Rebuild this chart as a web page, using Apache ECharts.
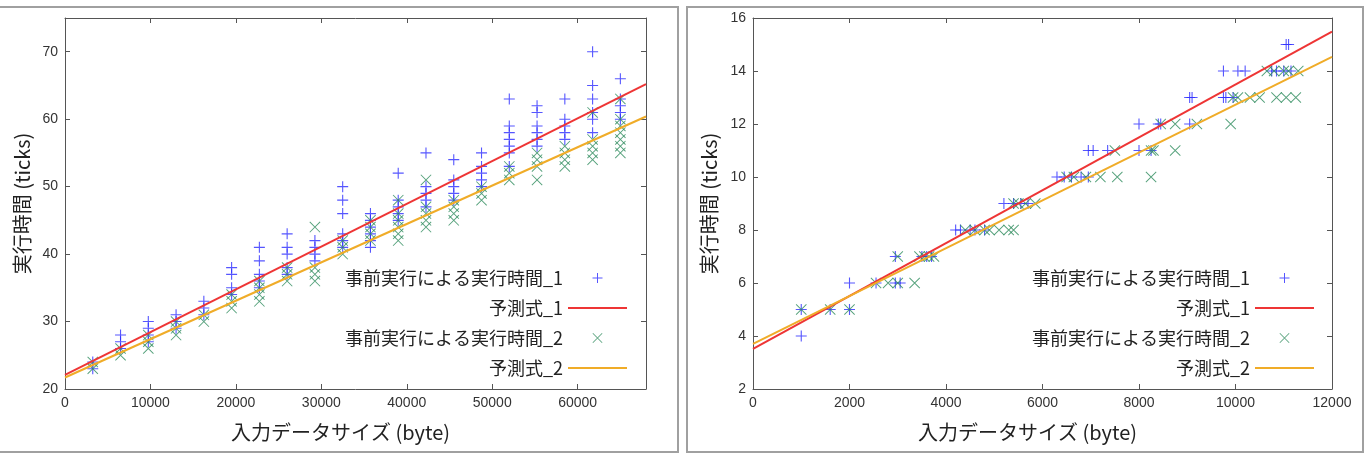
<!DOCTYPE html>
<html>
<head>
<meta charset="utf-8">
<script src="https://cdn.jsdelivr.net/npm/echarts@6/dist/echarts.min.js"></script>
<style>
  html, body { margin: 0; padding: 0; background: #fff; }
  #main { width: 1372px; height: 460px; }
</style>
</head>
<body>
<div id="main"></div>
<script>
// left panel: input size groups (byte) and run times (ticks)
var sizeL = [3250, 6500, 9750, 13000, 16250, 19500, 22750, 26000, 29250, 32500,
    35750, 39000, 42250, 45500, 48750, 52000, 55250, 58500, 61750, 65000];
var timeL1 = [[24, 23], [28, 27, 26], [30, 29, 28, 27], [31, 30, 29], [33, 32, 31],
    [38, 37, 35, 34], [41, 39, 37, 36, 35], [43, 41, 40, 38, 37], [42, 41, 40, 39],
    [50, 48, 46, 43, 42, 41], [46, 45, 44, 43, 42, 41], [52, 48, 47, 46, 45],
    [55, 50, 49, 48, 47], [54, 51, 50, 49, 48], [55, 53, 52, 51, 50],
    [63, 59, 58, 57, 56, 55, 53], [62, 61, 59, 58, 57, 56], [63, 60, 59, 58, 57],
    [70, 65, 63, 61, 60, 58], [66, 63, 62, 61, 60]];
var timeL2 = [[23, 24], [26, 25], [28, 27, 26], [30, 29, 28], [31, 30], [34, 33, 32],
    [36, 35, 34, 33], [38, 37, 36], [44, 38, 37, 36], [42, 41, 40], [45, 44, 43, 42],
    [48, 46, 45, 44, 43, 42], [51, 47, 46, 45, 44], [48, 47, 46, 45], [50, 49, 48],
    [53, 52, 51], [55, 54, 53, 51], [56, 55, 54, 53], [61, 57, 56, 55, 54],
    [63, 60, 59, 58, 57, 56, 55]];
var predL1 = [[0, 22.1], [68000, 65.2]];
var predL2 = [[0, 21.7], [68000, 60.4]];

// right panel: run time levels (ticks) and the sizes measured at each level
var timeR = [4, 5, 6, 7, 8, 9, 10, 11, 12, 13, 14, 15];
var sizeR1 = [[1000], [1000, 1600, 2000], [2000, 2550, 2950, 3050], [2950, 3500, 3600, 3700],
    [4200, 4300, 4500, 4600, 4800], [5200, 5400, 5550, 5700], [6300, 6450, 6600, 6800, 6950],
    [6950, 7050, 7350, 8000, 8250], [8000, 8400, 8450, 9050],
    [9050, 9100, 9750, 9800, 9950], [9750, 10050, 10200, 10750, 10850, 11000, 11150],
    [11050, 11100]];
var sizeR2 = [[], [1000, 1600, 2000], [2550, 2800, 3000, 3350], [3000, 3450, 3550, 3650, 3750],
    [4400, 4600, 4800, 4900, 5100, 5300, 5400], [5400, 5500, 5650, 5850],
    [6500, 6650, 6900, 7200, 7550, 8250], [7500, 8250, 8300, 8750], [8450, 8750, 9200, 9900],
    [9950, 10050, 10300, 10500, 10850, 11050, 11250], [10650, 10800, 11000, 11100, 11300], []];
var predR1 = [[0, 3.51], [12000, 15.49]];
var predR2 = [[0, 3.70], [12000, 14.53]];

var names = ['事前実行による実行時間_1', '予測式_1', '事前実行による実行時間_2', '予測式_2'];

function byGroup(xs, ys) {
    var out = [];
    xs.forEach(function (x, i) { ys[i].forEach(function (y) { out.push([x, y]); }); });
    return out;
}
function byLevel(levels, xs) {
    var out = [];
    levels.forEach(function (y, i) { xs[i].forEach(function (x) { out.push([x, y]); }); });
    return out;
}

var plusPath = 'path://M0,4.5H10V5.5H0Z M4.5,0H5.5V10H4.5Z';
var crossPath = 'path://M0,0.6L0.6,0L10,9.4L9.4,10Z M9.4,0L10,0.6L0.6,10L0,9.4Z';
var barPath = 'path://M0,0H59V2H0Z';
var frame = '#555';
var cjk = "'Noto Sans CJK JP', sans-serif";

function axis(pos, grid, min, max, interval, labels, nameText) {
    var a = {
        type: 'value', gridIndex: grid, position: pos,
        min: min, max: max, interval: interval,
        axisLine: { show: true, onZero: false, lineStyle: { color: frame, width: 1 } },
        axisTick: { show: true, inside: true, length: 5, lineStyle: { color: frame } },
        splitLine: { show: false },
        axisLabel: {
            show: labels, showMaxLabel: false, margin: 7,
            formatter: function (v) { return String(v); },
            color: '#333', fontSize: 14, fontFamily: "'Liberation Sans', Arial, sans-serif"
        }
    };
    if (nameText) {
        a.name = nameText;
        a.nameLocation = 'middle';
        a.nameTextStyle = { fontSize: 20, color: '#222', fontFamily: cjk };
    }
    return a;
}

var xl = axis('bottom', 0, 0, 68000, 10000, true, '入力データサイズ (byte)');
xl.nameGap = 33; xl.nameTextStyle.padding = [0, 30, 0, 0];
var xr = axis('bottom', 1, 0, 12000, 2000, true, '入力データサイズ (byte)');
xr.nameGap = 33; xr.nameTextStyle.padding = [0, 30, 0, 0];
xr.axisLabel.showMaxLabel = true;
var yl = axis('left', 0, 20, 75, 10, true, '実行時間 (ticks)');
yl.nameGap = 33;
var yr = axis('left', 1, 2, 16, 2, true, '実行時間 (ticks)');
yr.nameGap = 34;
yr.axisLabel.showMaxLabel = true;

function scatter(name, x, y, data, sym, color) {
    return {
        name: name, type: 'scatter', xAxisIndex: x, yAxisIndex: y,
        symbol: sym, symbolSize: 11, data: data,
        itemStyle: { color: color, opacity: 0.8 }
    };
}
function line(name, x, y, data, color) {
    return {
        name: name, type: 'line', xAxisIndex: x, yAxisIndex: y,
        symbol: 'none', data: data, z: 3,
        lineStyle: { color: color, width: 2 }, itemStyle: { color: color }
    };
}

var blue = '#2c2cff';
var green = '#2a8a5a';
var red = '#ee3535';
var orange = '#f0ac28';

function legend(right) {
    return {
        data: [
            { name: names[0] },
            { name: names[1], icon: barPath },
            { name: names[2] },
            { name: names[3], icon: barPath }
        ],
        orient: 'vertical', align: 'right',
        right: right, top: 269, padding: 0,
        itemWidth: 59, itemHeight: 10, itemGap: 12,
        textStyle: { fontSize: 18, lineHeight: 18, color: '#222', fontFamily: cjk }
    };
}

var myChart = echarts.init(document.getElementById('main'));
var option = {
    animation: false,
    backgroundColor: '#fff',
    graphic: [
        { type: 'rect', shape: { x: -3, y: 7, width: 681, height: 445 },
          style: { fill: 'none', stroke: '#a0a0a0', lineWidth: 2 } },
        { type: 'rect', shape: { x: 687, y: 7, width: 676, height: 445 },
          style: { fill: 'none', stroke: '#a0a0a0', lineWidth: 2 } }
    ],
    legend: [legend(745), legend(58)],
    grid: [
        { left: 65, top: 18, width: 581, height: 371 },
        { left: 753, top: 18, width: 579, height: 371 }
    ],
    xAxis: [xl, xr,
        axis('top', 0, 0, 68000, 10000, false),
        axis('top', 1, 0, 12000, 2000, false)],
    yAxis: [yl, yr,
        axis('right', 0, 20, 75, 10, false),
        axis('right', 1, 2, 16, 2, false)],
    series: [
        scatter(names[0], 0, 0, byGroup(sizeL, timeL1), plusPath, blue),
        line(names[1], 0, 0, predL1, red),
        scatter(names[2], 0, 0, byGroup(sizeL, timeL2), crossPath, green),
        line(names[3], 0, 0, predL2, orange),
        scatter(names[0], 1, 1, byLevel(timeR, sizeR1), plusPath, blue),
        line(names[1], 1, 1, predR1, red),
        scatter(names[2], 1, 1, byLevel(timeR, sizeR2), crossPath, green),
        line(names[3], 1, 1, predR2, orange)
    ]
};
myChart.setOption(option);
</script>
</body>
</html>
